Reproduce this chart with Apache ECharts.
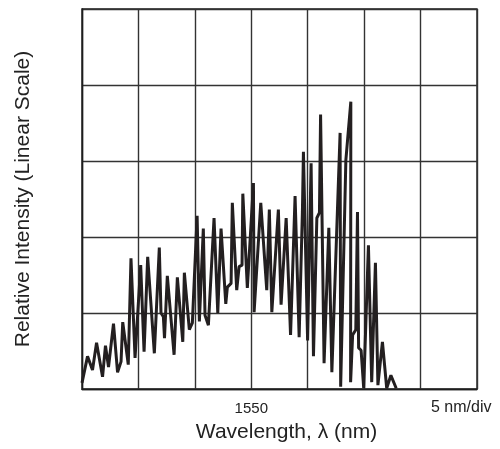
<!DOCTYPE html>
<html>
<head>
<meta charset="utf-8">
<script src="https://cdn.jsdelivr.net/npm/echarts@6/dist/echarts.min.js"></script>
<style>
html,body{margin:0;padding:0;background:#fff;}
#chart{width:500px;height:449px;}
</style>
</head>
<body>
<div id="chart"></div>
<script>
// Wavelength (nm)
var wavelength = [
  1535.00, 1535.49, 1535.93, 1536.29, 1536.82, 1537.08, 1537.35, 1537.79, 1538.15, 1538.46,
  1538.61, 1539.10, 1539.34, 1539.70, 1540.20, 1540.50, 1540.82, 1541.41, 1541.85, 1542.00,
  1542.21, 1542.31, 1542.56, 1543.16, 1543.45, 1543.93, 1544.07, 1544.51, 1544.78, 1545.20,
  1545.40, 1545.75, 1545.90, 1546.20, 1546.70, 1547.03, 1547.32, 1547.74, 1547.88, 1548.21,
  1548.32, 1548.71, 1548.92, 1549.18, 1549.25, 1549.65, 1550.19, 1550.25, 1550.84, 1551.37,
  1551.60, 1551.82, 1552.40, 1552.64, 1553.09, 1553.48, 1553.88, 1554.24, 1554.53, 1554.62,
  1554.99, 1555.30, 1555.51, 1555.81, 1556.04, 1556.14, 1556.45, 1556.87, 1557.14, 1557.87,
  1557.92, 1558.38, 1558.82, 1558.80, 1558.98, 1559.26, 1559.41, 1559.51, 1559.73, 1559.96,
  1560.38, 1560.67, 1561.00, 1561.22, 1561.62, 1562.00, 1562.37, 1562.84
];
// Relative intensity (divisions, linear scale)
var intensity = [
  0.08, 0.43, 0.25, 0.61, 0.16, 0.57, 0.29, 0.86, 0.22, 0.36,
  0.88, 0.32, 1.72, 0.41, 1.63, 0.49, 1.74, 0.47, 1.86, 1.00,
  0.95, 0.67, 1.49, 0.45, 1.47, 0.62, 1.53, 0.78, 0.87, 2.28,
  0.89, 2.11, 0.97, 0.84, 2.25, 1.00, 2.11, 1.12, 1.34, 1.39,
  2.45, 1.30, 1.61, 1.63, 2.57, 1.33, 2.71, 1.01, 2.45, 1.30,
  2.36, 1.01, 2.36, 1.11, 2.25, 0.71, 2.54, 0.68, 2.34, 3.12,
  0.64, 2.97, 0.43, 2.25, 2.32, 3.61, 0.34, 2.12, 0.22, 3.37,
  0.03, 3.01, 3.78, 0.09, 0.71, 0.78, 2.33, 0.54, 0.51, 0.01,
  1.89, 0.09, 1.66, 0.05, 0.62, 0.01, 0.18, 0.01
];
var xTickLabels = {1550: '1550'};
var xAxisTitle = 'Wavelength, λ (nm)';
var yAxisTitle = 'Relative Intensity (Linear Scale)';
var scaleNote = '5 nm/div';

var points = wavelength.map(function (w, i) { return [w, intensity[i]]; });

var chart = echarts.init(document.getElementById('chart'), null, {renderer: 'canvas'});
var font = 'Liberation Sans, Arial, Helvetica, sans-serif';
chart.setOption({
  animation: false,
  backgroundColor: '#fff',
  grid: {left: 82, right: 23, top: 9, bottom: 60, show: true, borderColor: '#1e1e1e', borderWidth: 1.4, backgroundColor: 'transparent'},
  xAxis: {
    type: 'value', min: 1535, max: 1570, interval: 5,
    axisLine: {show: true, lineStyle: {color: '#1e1e1e', width: 1.4}},
    axisTick: {show: false},
    axisLabel: {
      margin: 12, fontSize: 15, color: '#222', fontFamily: font,
      formatter: function (v) { return xTickLabels[v] || ''; }
    },
    splitLine: {show: true, lineStyle: {color: '#333', width: 1.4}},
    name: xAxisTitle, nameLocation: 'middle', nameGap: 33,
    nameTextStyle: {fontSize: 21, color: '#222', fontFamily: font, padding: [0, 0, 0, 14]}
  },
  yAxis: {
    type: 'value', min: 0, max: 5, interval: 1,
    axisLine: {show: true, lineStyle: {color: '#1e1e1e', width: 1.4}},
    axisTick: {show: false},
    axisLabel: {show: false},
    splitLine: {show: true, lineStyle: {color: '#333', width: 1.4}},
    name: yAxisTitle, nameLocation: 'middle', nameGap: 48,
    nameTextStyle: {fontSize: 21, color: '#222', fontFamily: font, padding: [0, 0, 0, 0]}
  },
  graphic: [{
    type: 'text', left: 431, top: 400,
    style: {text: scaleNote, fontSize: 16, fill: '#222', fontFamily: font}
  }],
  series: [{
    type: 'line', data: points, showSymbol: false, symbol: 'none',
    lineStyle: {color: '#231f20', width: 3}
  }]
});
</script>
</body>
</html>
